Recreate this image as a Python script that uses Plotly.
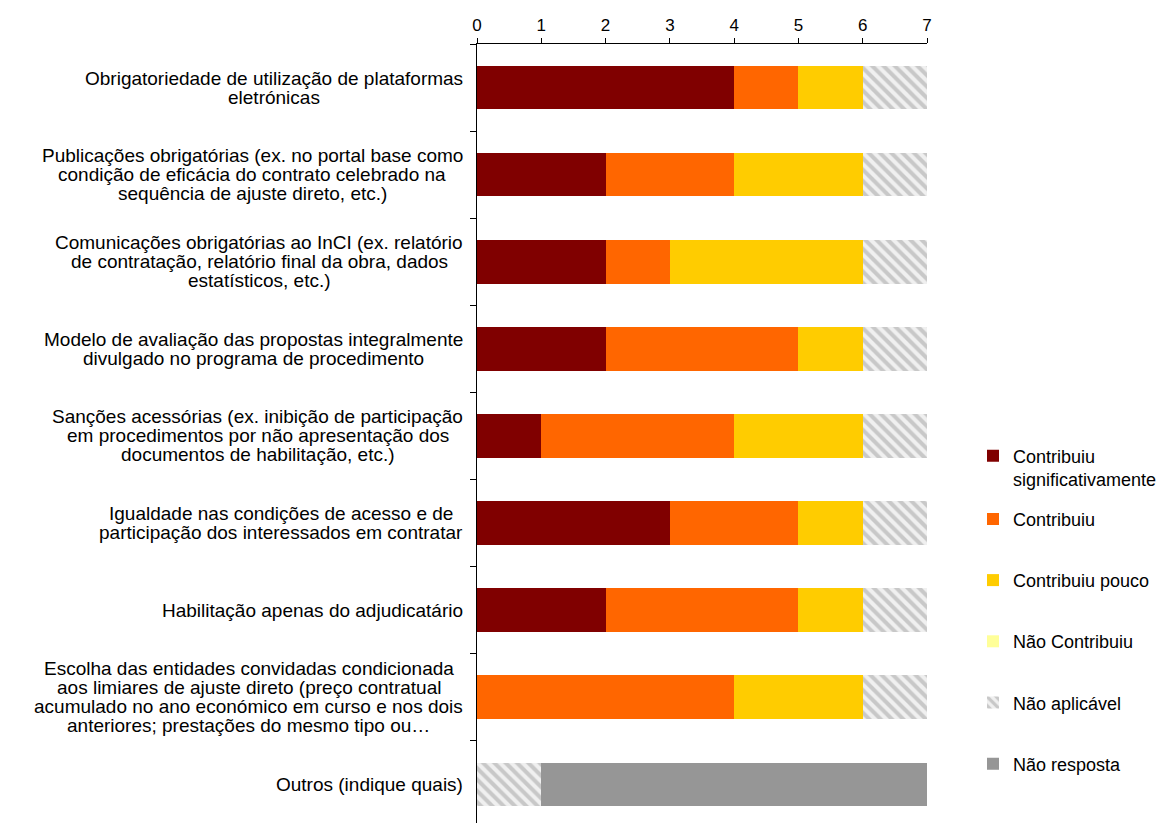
import plotly.graph_objects as go

# Statements evaluated (top to bottom); <br> marks the line breaks of each label
categories = [
    "Obrigatoriedade de utilização de plataformas<br>eletrónicas",
    "Publicações obrigatórias (ex. no portal base como<br>condição de eficácia do contrato celebrado na<br>sequência de ajuste direto, etc.)",
    "Comunicações obrigatórias ao InCI (ex. relatório<br>de contratação, relatório final da obra, dados<br>estatísticos, etc.)",
    "Modelo de avaliação das propostas integralmente<br>divulgado no programa de procedimento",
    "Sanções acessórias (ex. inibição de participação<br>em procedimentos por não apresentação dos<br>documentos de habilitação, etc.)",
    "Igualdade nas condições de acesso e de<br>participação dos interessados em contratar",
    "Habilitação apenas do adjudicatário",
    "Escolha das entidades convidadas condicionada<br>aos limiares de ajuste direto (preço contratual<br>acumulado no ano económico em curso e nos dois<br>anteriores; prestações do mesmo tipo ou…",
    "Outros (indique quais)",
]

# Number of answers per response option
contribuiu_signif = [4, 2, 2, 2, 1, 3, 2, 0, 0]
contribuiu = [1, 2, 1, 3, 3, 2, 3, 4, 0]
contribuiu_pouco = [1, 2, 3, 1, 2, 1, 1, 2, 0]
nao_contribuiu = [0, 0, 0, 0, 0, 0, 0, 0, 0]
nao_aplicavel = [1, 1, 1, 1, 1, 1, 1, 1, 1]
nao_resposta = [0, 0, 0, 0, 0, 0, 0, 0, 6]

x_ticks = [0, 1, 2, 3, 4, 5, 6, 7]

FONT = "Liberation Sans, Arial, sans-serif"
LABEL_SIZE = 19
LINE_PITCH = 19

# Figure geometry (px)
W, H = 1158, 823
M_L, M_R, M_T, M_B = 477, 231, 44, 0
PLOT_W = W - M_L - M_R
PLOT_H = H - M_T - M_B
ROW_PX = 87.1

# Arial / Liberation Sans advance widths (1/1000 em), used to centre wrapped labels
_W = {" ": 278, "(": 333, ")": 333, ",": 278, ".": 278, ";": 278, "…": 1000,
      "C": 722, "E": 667, "H": 722, "I": 278, "M": 833, "O": 778, "P": 667, "S": 667,
      "c": 500, "f": 278, "i": 222, "j": 222, "k": 500, "l": 222, "m": 833, "r": 333,
      "s": 500, "t": 278, "v": 500, "w": 722, "x": 500, "y": 500, "z": 500,
      "ç": 500, "í": 278}


def text_width(s, size):
    return sum(_W.get(ch, 556) for ch in s) * size / 1000.0


series = [
    ("Contribuiu<br>significativamente", contribuiu_signif, "#800000", None),
    ("Contribuiu", contribuiu, "#FF6600", None),
    ("Contribuiu pouco", contribuiu_pouco, "#FFCC00", None),
    ("Não Contribuiu", nao_contribuiu, "#FFFF99", None),
    ("Não aplicável", nao_aplicavel, "#FFFFFF", "\\"),
    ("Não resposta", nao_resposta, "#969696", None),
]

fig = go.Figure()
legend_names = ["legend"] + [f"legend{i}" for i in range(2, len(series) + 1)]
for i, (name, vals, color, shape) in enumerate(series):
    marker = dict(color=color, line=dict(width=0))
    if shape:
        marker["pattern"] = dict(shape=shape, fgcolor="#A0A0A0", bgcolor="#F0F0F0",
                                 size=8, solidity=0.5)
    fig.add_trace(go.Bar(
        y=categories, x=vals, name=name, orientation="h",
        marker=marker, legend=legend_names[i],
    ))

# Category labels: one text per line, lines centred on the widest line,
# block right-aligned next to the axis
label_right_px = M_L - 14
for cat in categories:
    lines = cat.split("<br>")
    block_w = max(text_width(s, LABEL_SIZE) for s in lines)
    cx = (label_right_px - block_w / 2 - M_L) / PLOT_W
    n = len(lines)
    for k, line in enumerate(lines):
        fig.add_annotation(
            x=cx, xref="paper", y=cat, yref="y", text=line, showarrow=False,
            xanchor="center", yanchor="middle",
            yshift=((n - 1) / 2 - k) * LINE_PITCH,
            font=dict(family=FONT, size=LABEL_SIZE, color="#000000"),
        )

# One legend per entry so the entries are evenly spaced down the right side
legend_text_x_px = 1013
legend_first_px = 458
legend_step_px = 61.2
legends = {}
for i, key in enumerate(legend_names):
    y_px = legend_first_px + i * legend_step_px
    if i == 0:
        y_px += 9.5  # two-line entry: centre of the block
    legends[key] = dict(
        x=(legend_text_x_px - 40 - M_L) / PLOT_W,
        y=(H - M_B - y_px) / PLOT_H,
        xanchor="left", yanchor="middle", valign="top",
        bgcolor="rgba(0,0,0,0)",
        font=dict(family=FONT, size=18, color="#000000"),
    )

fig.update_layout(
    width=W, height=H,
    margin=dict(l=M_L, r=M_R, t=M_T, b=M_B, autoexpand=False),
    paper_bgcolor="white", plot_bgcolor="white",
    barmode="stack", bargap=0.5,
    font=dict(family=FONT, size=17, color="#000000"),
    showlegend=True,
    xaxis=dict(
        side="top", range=[0, 7], tickvals=x_ticks, ticks="outside",
        ticklen=5, tickcolor="black", showline=True, linecolor="black",
        linewidth=1, showgrid=False, zeroline=False, ticklabelstandoff=0,
        tickfont=dict(family=FONT, size=17),
    ),
    yaxis=dict(
        range=[-0.5 + PLOT_H / ROW_PX, -0.5],
        showticklabels=False, ticks="outside",
        tickson="boundaries", ticklen=6, tickcolor="black",
        showline=True, linecolor="black", linewidth=1, showgrid=False,
    ),
    **legends,
)

fig.write_html("out.html")
